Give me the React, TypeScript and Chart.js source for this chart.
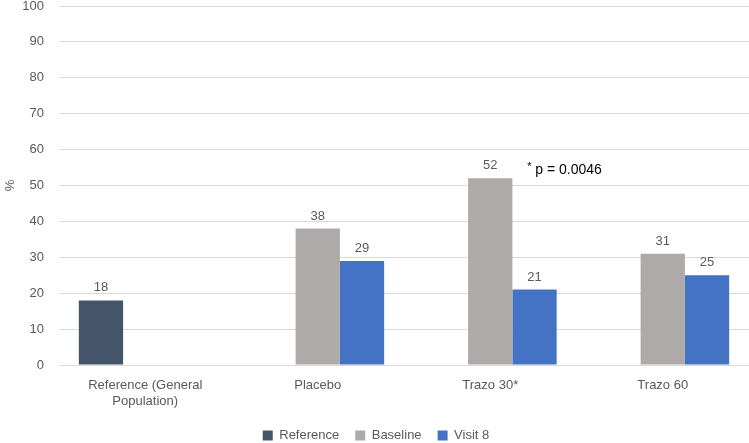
import React, { useEffect, useRef } from "react";
import { Chart, registerables } from "chart.js";

Chart.register(...registerables);

const categories: (string | string[])[] = [["Reference (General", "Population)"], "Placebo", "Trazo 30*", "Trazo 60"];
const referenceValues: (number | null)[] = [18, null, null, null];
const baselineValues: (number | null)[] = [null, 38, 52, 31];
const visit8Values: (number | null)[] = [null, 29, 21, 25];
const yTicks = [0, 10, 20, 30, 40, 50, 60, 70, 80, 90, 100];
const annotationText = "p = 0.0046";

const FONT = "'Liberation Sans', Arial, sans-serif";
const GREY = "#595959";

const labelPlugin = {
  id: "barLabels",
  afterDatasetsDraw(chart: any) {
    const ctx = chart.ctx;
    ctx.save();
    ctx.font = `13px ${FONT}`;
    ctx.fillStyle = GREY;
    ctx.textAlign = "center";
    ctx.textBaseline = "bottom";
    chart.data.datasets.forEach((ds: any, di: number) => {
      const meta = chart.getDatasetMeta(di);
      meta.data.forEach((el: any, i: number) => {
        const v = ds.data[i];
        if (v === null || v === undefined) return;
        ctx.fillText(String(v), el.x, el.y - 6);
      });
    });
    const meta = chart.getDatasetMeta(1);
    const el = meta.data[2];
    const yScale = chart.scales.y;
    const yc = yScale.getPixelForValue(baselineValues[2] as number) - 8;
    const x0 = el.x + 37;
    ctx.fillStyle = "#000";
    ctx.textAlign = "left";
    ctx.textBaseline = "middle";
    ctx.font = `11px ${FONT}`;
    ctx.fillText("*", x0, yc - 3);
    ctx.font = `14px ${FONT}`;
    ctx.fillText(annotationText, x0 + 8, yc);
    ctx.restore();
  },
};

export default function App() {
  const ref = useRef<HTMLCanvasElement | null>(null);
  useEffect(() => {
    if (!ref.current) return;
    const chart = new Chart(ref.current, {
      type: "bar",
      data: {
        labels: categories,
        datasets: [
          { label: "Reference", data: referenceValues, backgroundColor: "#44546A" },
          { label: "Baseline", data: baselineValues, backgroundColor: "#AEAAAA" },
          { label: "Visit 8", data: visit8Values, backgroundColor: "#4472C4" },
        ],
      },
      options: {
        responsive: false,
        animation: false,
        maintainAspectRatio: false,
        layout: { padding: { top: 6, right: 0, bottom: 0, left: 3 } },
        datasets: { bar: { categoryPercentage: 0.77, barPercentage: 1 } },
        plugins: {
          legend: {
            position: "bottom",
            labels: {
              font: { family: FONT, size: 13 },
              color: GREY,
              boxWidth: 10,
              boxHeight: 10,
              padding: 16,
            },
          },
          tooltip: { enabled: false },
        },
        scales: {
          x: {
            grid: { display: false },
            border: { display: false },
            ticks: { font: { family: FONT, size: 13 }, color: GREY, padding: 5, maxRotation: 0, autoSkip: false },
            afterFit: (s: any) => { s.height = 48; },
          },
          y: {
            min: 0,
            max: 100,
            afterBuildTicks: (s: any) => { s.ticks = yTicks.map((v) => ({ value: v })); },
            grid: { color: "#d9d9d9", drawTicks: false },
            border: { display: false },
            ticks: { font: { family: FONT, size: 13 }, color: GREY, padding: 15 },
            title: { display: true, text: "%", font: { family: FONT, size: 13 }, color: GREY, padding: 0 },
            afterFit: (s: any) => { s.width = 56; s.paddingTop = 0; s.paddingBottom = 0; },
          },
        },
      },
      plugins: [labelPlugin],
    } as any);
    return () => chart.destroy();
  }, []);
  return (
    <div style={{ position: "absolute", left: 0, top: 0, width: 749, height: 443, overflow: "hidden", background: "#fff" }}>
      <canvas ref={ref} width={749} height={452} style={{ width: 749, height: 452, display: "block" }} />
    </div>
  );
}
